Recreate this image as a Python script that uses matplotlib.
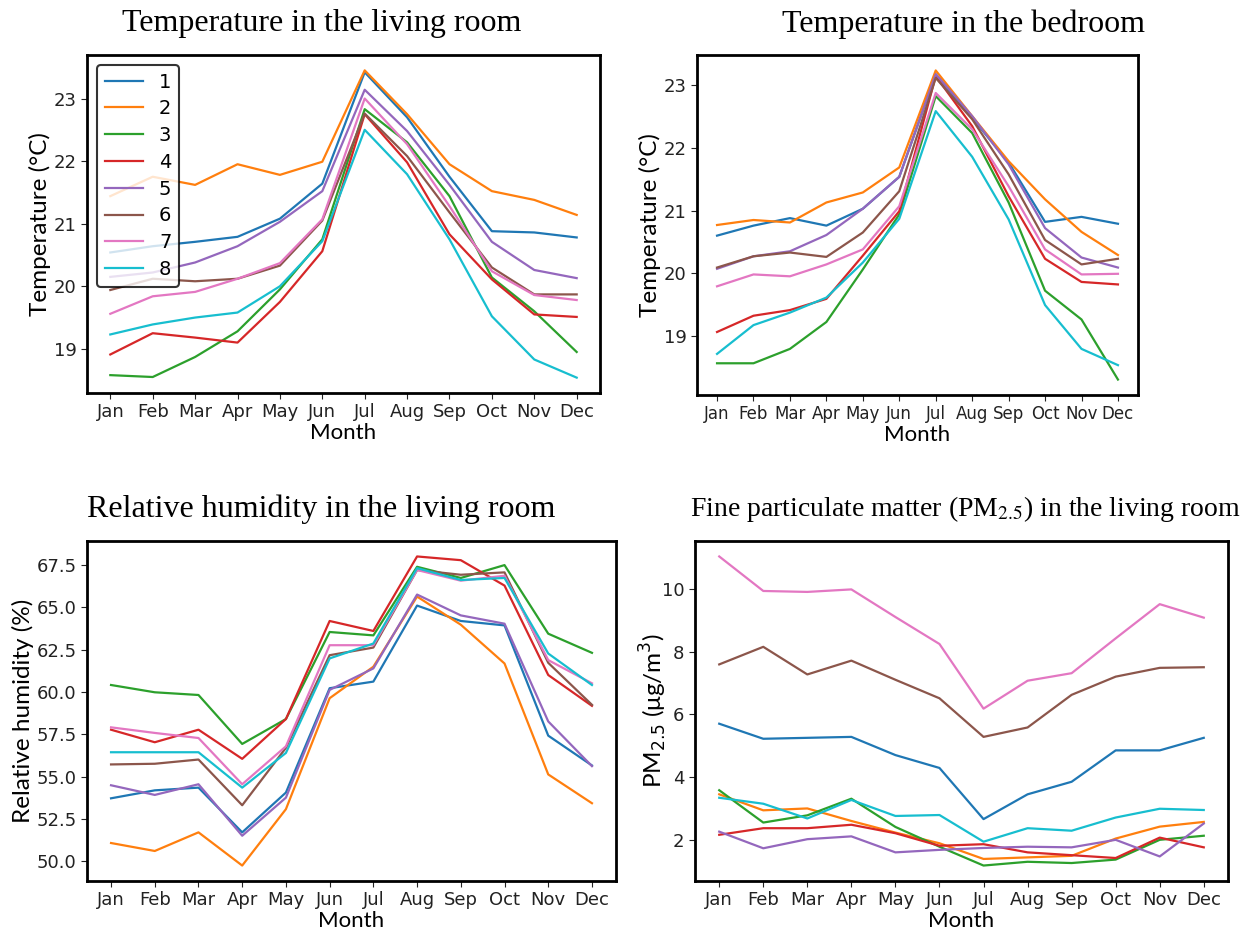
import matplotlib
matplotlib.use("Agg")
import matplotlib.pyplot as plt
import numpy as np

# -----------------------------
# Data
# -----------------------------

months = ["Jan", "Feb", "Mar", "Apr", "May", "Jun",
          "Jul", "Aug", "Sep", "Oct", "Nov", "Dec"]
homes = ["1", "2", "3", "4", "5", "6", "7", "8"]

temp_living = [
    [20.54, 20.64, 20.71, 20.79, 21.08, 21.64, 23.42, 22.70, 21.75, 20.88, 20.86, 20.78],
    [21.44, 21.75, 21.62, 21.95, 21.78, 21.99, 23.45, 22.75, 21.95, 21.52, 21.38, 21.14],
    [18.58, 18.55, 18.87, 19.28, 19.95, 20.75, 22.83, 22.30, 21.44, 20.14, 19.60, 18.95],
    [18.91, 19.25, 19.18, 19.10, 19.75, 20.56, 22.75, 21.98, 20.83, 20.11, 19.55, 19.51],
    [20.15, 20.22, 20.38, 20.64, 21.03, 21.52, 23.14, 22.48, 21.62, 20.71, 20.26, 20.13],
    [19.94, 20.12, 20.08, 20.12, 20.33, 21.05, 22.76, 22.08, 21.18, 20.30, 19.87, 19.87],
    [19.56, 19.84, 19.91, 20.12, 20.37, 21.07, 23.00, 22.27, 21.28, 20.24, 19.86, 19.78],
    [19.23, 19.39, 19.50, 19.58, 20.00, 20.72, 22.50, 21.79, 20.75, 19.52, 18.83, 18.54],
]

temp_bedroom = [
    [20.60, 20.76, 20.88, 20.76, 21.03, 21.54, 23.18, 22.48, 21.77, 20.82, 20.90, 20.79],
    [20.77, 20.85, 20.81, 21.13, 21.29, 21.69, 23.24, 22.51, 21.79, 21.18, 20.66, 20.29],
    [18.56, 18.56, 18.79, 19.22, 20.06, 20.94, 22.83, 22.24, 21.13, 19.72, 19.26, 18.30],
    [19.06, 19.32, 19.41, 19.59, 20.28, 20.99, 23.15, 22.35, 21.23, 20.23, 19.86, 19.82],
    [20.07, 20.27, 20.35, 20.61, 21.03, 21.54, 23.18, 22.51, 21.74, 20.72, 20.25, 20.09],
    [20.09, 20.27, 20.33, 20.26, 20.65, 21.31, 23.12, 22.46, 21.58, 20.53, 20.14, 20.23],
    [19.79, 19.98, 19.95, 20.14, 20.38, 21.07, 22.88, 22.30, 21.39, 20.38, 19.98, 19.99],
    [18.71, 19.17, 19.37, 19.61, 20.17, 20.87, 22.59, 21.86, 20.86, 19.49, 18.79, 18.53],
]

rh_living = [
    [53.73, 54.20, 54.36, 51.72, 54.07, 60.23, 60.62, 65.11, 64.20, 63.94, 57.43, 55.67],
    [51.09, 50.62, 51.72, 49.76, 53.09, 59.64, 61.50, 65.64, 63.98, 61.69, 55.14, 53.44],
    [60.42, 59.99, 59.83, 56.94, 58.41, 63.55, 63.35, 67.40, 66.74, 67.50, 63.45, 62.32],
    [57.78, 57.04, 57.78, 56.06, 58.41, 64.20, 63.61, 68.01, 67.79, 66.29, 61.01, 59.19],
    [54.50, 53.93, 54.56, 51.52, 53.77, 60.13, 61.40, 65.76, 64.53, 64.04, 58.27, 55.63],
    [55.73, 55.77, 56.02, 53.32, 56.71, 62.18, 62.63, 67.21, 66.93, 67.07, 61.73, 59.25],
    [57.92, 57.59, 57.29, 54.56, 56.80, 62.77, 62.77, 67.21, 66.58, 66.87, 61.89, 60.52],
    [56.45, 56.45, 56.45, 54.36, 56.41, 61.99, 62.87, 67.32, 66.62, 66.74, 62.28, 60.42],
]

pm25_living = [
    [5.70, 5.22, 5.25, 5.28, 4.70, 4.29, 2.66, 3.45, 3.85, 4.85, 4.85, 5.25],
    [3.45, 2.94, 3.00, 2.60, 2.23, 1.89, 1.39, 1.44, 1.49, 2.04, 2.42, 2.57],
    [3.58, 2.55, 2.78, 3.31, 2.41, 1.78, 1.18, 1.30, 1.26, 1.37, 2.00, 2.13],
    [2.16, 2.37, 2.37, 2.48, 2.21, 1.81, 1.86, 1.60, 1.51, 1.42, 2.07, 1.76],
    [2.26, 1.73, 2.02, 2.11, 1.60, 1.68, 1.74, 1.78, 1.76, 2.00, 1.47, 2.52],
    [7.59, 8.15, 7.27, 7.71, 7.10, 6.51, 5.28, 5.58, 6.62, 7.20, 7.48, 7.50],
    [11.03, 9.93, 9.90, 9.98, 9.10, 8.24, 6.18, 7.07, 7.31, 8.42, 9.51, 9.08],
    [3.34, 3.15, 2.68, 3.27, 2.76, 2.79, 1.94, 2.37, 2.29, 2.71, 2.99, 2.95],
]

# tab10 minus grey and olive -> last series is cyan
colors = ["#1f77b4", "#ff7f0e", "#2ca02c", "#d62728",
          "#9467bd", "#8c564b", "#e377c2", "#17becf"]

# -----------------------------
# Layout helpers
# -----------------------------

W, H = 1255, 931
TITLE_FONT = "Liberation Serif"
LABEL_FONT = "Lato"


def px_axes(fig, x1, y1, x2, y2):
    return fig.add_axes([x1 / W, 1 - y2 / H, (x2 - x1) / W, (y2 - y1) / H])


def draw_panel(ax, series, ylabel, yticks=None, fmt=None, xsize=13, ypad=2):
    x = np.arange(len(months))
    for name, vals, c in zip(homes, series, colors):
        ax.plot(x, vals, linewidth=1.6, color=c, label=name)
    ax.set_xticks(x)
    ax.set_xticklabels(months)
    if yticks is not None:
        ax.set_yticks(yticks)
    if fmt is not None:
        ax.set_yticklabels([fmt.format(t) for t in yticks])
    ax.tick_params(labelsize=13, colors="#222222", length=4)
    ax.tick_params(axis="x", labelsize=xsize)
    ax.set_xlabel("Month", fontsize=16, family=LABEL_FONT, labelpad=1)
    ax.set_ylabel(ylabel, fontsize=17.5, family=LABEL_FONT,
                  math_fontfamily="dejavusans", labelpad=ypad)
    for s in ax.spines.values():
        s.set_linewidth(2.0)
        s.set_color("black")


fig = plt.figure(figsize=(W / 100, H / 100), dpi=100)

ax1 = px_axes(fig, 87, 55, 600, 393)
draw_panel(ax1, temp_living, "Temperature (°C)", [19, 20, 21, 22, 23])
leg = ax1.legend(loc="upper left", fontsize=14, labelspacing=0.4,
                 handlelength=2.0, borderpad=0.4, fancybox=True, framealpha=0.8)
leg.get_frame().set_edgecolor("black")
leg.get_frame().set_linewidth(1.5)

ax2 = px_axes(fig, 697, 55, 1138, 395)
draw_panel(ax2, temp_bedroom, "Temperature (°C)", [19, 20, 21, 22, 23], xsize=12)

ax3 = px_axes(fig, 87, 541, 616, 881)
draw_panel(ax3, rh_living, "Relative humidity (%)",
           [50.0, 52.5, 55.0, 57.5, 60.0, 62.5, 65.0, 67.5], "{:.1f}")

ax4 = px_axes(fig, 695, 541, 1228, 881)
draw_panel(ax4, pm25_living, "PM$_{2.5}$ (μg/m$^3$)", [2, 4, 6, 8, 10], ypad=-5)

# titles were placed over each panel image in the source figure
fig.text(322 / W, 1 - 24 / H, "Temperature in the living room",
         family=TITLE_FONT, fontsize=23, ha="center", va="center")
fig.text(963 / W, 1 - 24 / H, "Temperature in the bedroom",
         family=TITLE_FONT, fontsize=23, ha="center", va="center")
fig.text(321 / W, 1 - 509 / H, "Relative humidity in the living room",
         family=TITLE_FONT, fontsize=23, ha="center", va="center")
fig.text(965 / W, 1 - 509 / H, "Fine particulate matter (PM$_{2.5}$) in the living room",
         family=TITLE_FONT, fontsize=20, ha="center", va="center",
         math_fontfamily="stix")

fig.savefig("out.png", dpi=100)
